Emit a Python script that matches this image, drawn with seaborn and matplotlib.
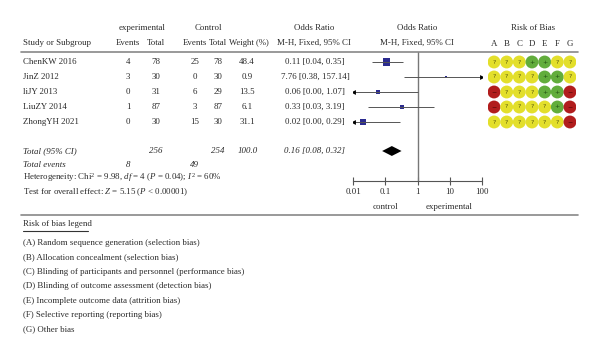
import numpy as np
import pandas as pd
import matplotlib
matplotlib.use("Agg")
import matplotlib.pyplot as plt
import seaborn as sns
from matplotlib.lines import Line2D

# ---------------- data ----------------
studies = ["ChenKW 2016", "JinZ 2012", "liJY 2013", "LiuZY 2014", "ZhongYH 2021"]
exp_events = [4, 3, 0, 1, 0]
exp_total = [78, 30, 31, 87, 30]
ctl_events = [25, 0, 6, 3, 15]
ctl_total = [78, 30, 29, 87, 30]
weights = [48.4, 0.9, 13.5, 6.1, 31.1]
odds = [0.11, 7.76, 0.06, 0.33, 0.02]
ci_low = [0.04, 0.38, 0.00, 0.03, 0.00]
ci_high = [0.35, 157.14, 1.07, 3.19, 0.29]

total_exp, total_ctl, total_weight = 256, 254, 100.0
total_or, total_lo, total_hi = 0.16, 0.08, 0.32
events_exp, events_ctl = 8, 49

axis_ticks = [0.01, 0.1, 1, 10, 100]
axis_labels = ["0.01", "0.1", "1", "10", "100"]

bias_domains = ["A", "B", "C", "D", "E", "F", "G"]
bias = [
    ["?", "?", "?", "+", "+", "?", "?"],
    ["?", "?", "?", "?", "+", "+", "?"],
    ["-", "?", "?", "?", "+", "+", "-"],
    ["-", "?", "?", "?", "?", "+", "-"],
    ["?", "?", "?", "?", "?", "?", "-"],
]
legend_items = [
    "(A) Random sequence generation (selection bias)",
    "(B) Allocation concealment (selection bias)",
    "(C) Blinding of participants and personnel (performance bias)",
    "(D) Blinding of outcome assessment (detection bias)",
    "(E) Incomplete outcome data (attrition bias)",
    "(F) Selective reporting (reporting bias)",
    "(G) Other bias",
]

# ---------------- style ----------------
sns.set_theme(style="white")
plt.rcParams["font.family"] = ["Liberation Serif", "DejaVu Serif"]
plt.rcParams["mathtext.fontset"] = "custom"
plt.rcParams["mathtext.rm"] = "Liberation Serif"
plt.rcParams["mathtext.it"] = "Liberation Serif:italic"

W, H = 600, 356
FS = 6.4
TC = "#2a2a2a"
fig = plt.figure(figsize=(W / 100, H / 100), dpi=100)


def T(x, y, s, ha="left", **kw):
    fig.text(x / W, 1 - y / H, s, ha=ha, va="center", fontsize=kw.pop("fs", FS),
             color=kw.pop("color", TC), **kw)


def hline(x0, x1, y, color="#888888", lw=1.2):
    fig.add_artist(Line2D([x0 / W, x1 / W], [1 - y / H, 1 - y / H], color=color, lw=lw))


ROW0, DROW = 62, 15
rows = np.arange(len(studies))

# headers
T(142, 28, "experimental", ha="center")
T(208, 28, "Control", ha="center")
T(314, 28, "Odds Ratio", ha="center")
T(417, 28, "Odds Ratio", ha="center")
T(533, 28, "Risk of Bias", ha="center")
T(23, 43, "Study or Subgroup")
T(128, 43, "Events", ha="center")
T(156, 43, "Total", ha="center")
T(195, 43, "Events", ha="center")
T(218, 43, "Total", ha="center")
T(249, 43, "Weight (%)", ha="center", fs=6.2)
T(314, 43, "M-H, Fixed, 95% CI", ha="center")
T(417, 43, "M-H, Fixed, 95% CI", ha="center")
hline(21, 578, 52)

# study rows
for i, s in enumerate(studies):
    y = ROW0 + DROW * i
    T(23, y, s)
    T(128, y, str(exp_events[i]), ha="center")
    T(156, y, str(exp_total[i]), ha="center")
    T(195, y, str(ctl_events[i]), ha="center")
    T(218, y, str(ctl_total[i]), ha="center")
    T(247, y, f"{weights[i]:.1f}", ha="center")
    T(315, y, f"{odds[i]:.2f} [{ci_low[i]:.2f}, {ci_high[i]:.2f}]", ha="center")

yt = 151
T(23, yt, "Total (95% CI)", style="italic")
T(156, yt, str(total_exp), ha="center", style="italic")
T(218, yt, str(total_ctl), ha="center", style="italic")
T(248, yt, f"{total_weight:.1f}", ha="center", style="italic")
T(315, yt, f"{total_or:.2f} [{total_lo:.2f}, {total_hi:.2f}]", ha="center", style="italic")
T(23, 165, "Total events", style="italic")
T(128, 165, str(events_exp), ha="center", style="italic")
T(194, 165, str(events_ctl), ha="center", style="italic")
T(23, 178, r"Heterogeneity: Chi$^2$ = 9.98, $df$ = 4 ($P$ = 0.04); $I^2$ = 60%")
T(23, 192, r"Test for overall effect: $Z$ = 5.15 ($P$ < 0.00001)")

# ---------------- forest axes ----------------
ax_top, ax_bot = 52, 181
axf = fig.add_axes([353 / W, 1 - ax_bot / H, 129 / W, (ax_bot - ax_top) / H])
axf.set_xscale("log")
axf.set_xlim(axis_ticks[0], axis_ticks[-1])
axf.set_ylim((ax_bot - ROW0) / DROW, (ax_top - ROW0) / DROW)
axf.axvline(1, color="#777777", lw=1.0)

lo_c = np.clip(ci_low, axis_ticks[0], axis_ticks[-1])
hi_c = np.clip(ci_high, axis_ticks[0], axis_ticks[-1])
axf.hlines(rows, lo_c, hi_c, color="#555555", lw=0.7)
for i in rows:
    if ci_low[i] < axis_ticks[0]:
        axf.plot(lo_c[i], i, marker="<", ms=3.5, color="black", mew=0)
    if ci_high[i] > axis_ticks[-1]:
        axf.plot(hi_c[i], i, marker=">", ms=3.5, color="black", mew=0)

df = pd.DataFrame({"study": studies, "row": rows, "odds": odds, "w": weights})
df["size"] = df["w"] * 0.6 + 1.5
sns.scatterplot(data=df, x="odds", y="row", size="size", sizes=(df["size"].min(), df["size"].max()),
                marker="s", color="#2b2b8f", edgecolor="none", legend=False, ax=axf)
h = 0.33
axf.fill([total_lo, total_or, total_hi, total_or], [(yt - ROW0) / DROW] * 4 +
         np.array([0, -h, 0, h]), color="black", lw=0)

for sp in ["top", "left", "right"]:
    axf.spines[sp].set_visible(False)
axf.spines["bottom"].set_color("#555555")
axf.spines["bottom"].set_linewidth(0.8)
axf.set_yticks([])
axf.set_xticks(axis_ticks)
axf.set_xticklabels(axis_labels)
axf.minorticks_off()
axf.tick_params(axis="x", direction="inout", length=6, width=0.8, color="#555555",
                labelsize=FS, labelcolor=TC, pad=2, bottom=True)
axf.set_xlabel("")
axf.set_ylabel("")
axf.patch.set_alpha(0)
T(385, 207, "control", ha="center")
T(449, 207, "experimental", ha="center")

# ---------------- risk of bias axes ----------------
rb_top = ROW0 - DROW / 2
rb_bot = ROW0 + DROW * 4 + DROW / 2
axr = fig.add_axes([487.7 / W, 1 - rb_bot / H, 88.6 / W, (rb_bot - rb_top) / H])
recs = []
for i in rows:
    for j, d in enumerate(bias_domains):
        recs.append({"row": i, "col": j, "judg": bias[i][j]})
rb = pd.DataFrame(recs)
pal = {"?": "#e3df2b", "+": "#62ad3c", "-": "#b11d1d"}
sym_col = {"?": "#5a5a10", "+": "#1f4d10", "-": "#5a0a0a"}
sns.scatterplot(data=rb, x="col", y="row", hue="judg", palette=pal, s=86, edgecolor="none",
                legend=False, ax=axr)
for _, r in rb.iterrows():
    sym = "\u2212" if r["judg"] == "-" else r["judg"]
    axr.text(r["col"], r["row"], sym, ha="center", va="center", fontsize=4.5,
             color=sym_col[r["judg"]], family="DejaVu Sans")
axr.set_xlim(-0.5, 6.5)
axr.set_ylim(4.5, -0.5)
axr.set_xticks(range(len(bias_domains)))
axr.set_xticklabels(bias_domains)
axr.xaxis.tick_top()
axr.tick_params(axis="x", length=0, labelsize=FS, labelcolor=TC, pad=4.5)
axr.set_yticks([])
axr.set_xlabel("")
axr.set_ylabel("")
for sp in axr.spines.values():
    sp.set_visible(False)
axr.patch.set_alpha(0)

# ---------------- bottom legend ----------------
hline(21, 578, 215)
T(23, 224, "Risk of bias legend")
hline(23, 88, 231, color="#333333", lw=0.8)
for k, s in enumerate(legend_items):
    T(23, 243 + 14.4 * k, s)

fig.savefig("out.png", dpi=100)
